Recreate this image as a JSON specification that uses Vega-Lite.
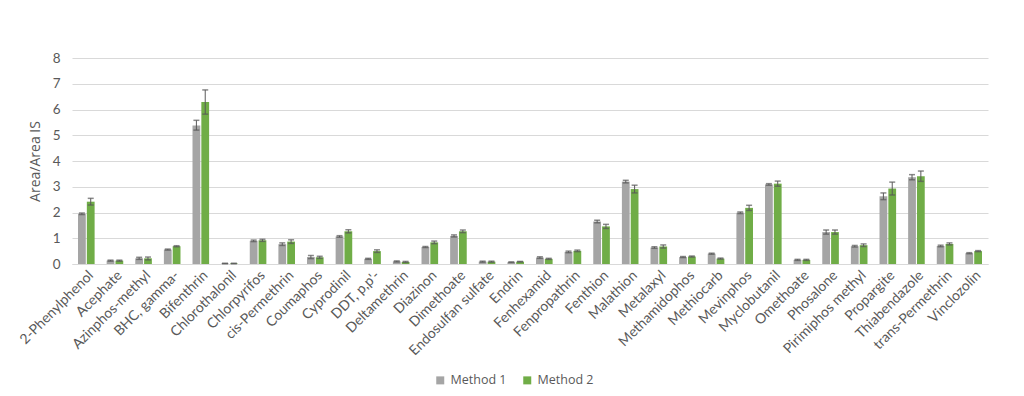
{
  "$schema": "https://vega.github.io/schema/vega-lite/v6.json",
  "width": 916,
  "height": 206,
  "autosize": {"type": "none"},
  "padding": {"left": 72, "top": 58, "right": 36, "bottom": 132},
  "background": "white",
  "data": {"values": [
    {"name": "2-Phenylphenol", "method": "Method 1", "v": 1.95, "lo": 1.92, "hi": 1.98},
    {"name": "2-Phenylphenol", "method": "Method 2", "v": 2.42, "lo": 2.29, "hi": 2.55},
    {"name": "Acephate", "method": "Method 1", "v": 0.13, "lo": 0.11, "hi": 0.15},
    {"name": "Acephate", "method": "Method 2", "v": 0.13, "lo": 0.11, "hi": 0.15},
    {"name": "Azinphos-methyl", "method": "Method 1", "v": 0.22, "lo": 0.18, "hi": 0.26},
    {"name": "Azinphos-methyl", "method": "Method 2", "v": 0.22, "lo": 0.16, "hi": 0.27},
    {"name": "BHC, gamma-", "method": "Method 1", "v": 0.56, "lo": 0.54, "hi": 0.58},
    {"name": "BHC, gamma-", "method": "Method 2", "v": 0.69, "lo": 0.67, "hi": 0.71},
    {"name": "Bifenthrin", "method": "Method 1", "v": 5.38, "lo": 5.2, "hi": 5.58},
    {"name": "Bifenthrin", "method": "Method 2", "v": 6.29, "lo": 5.82, "hi": 6.76},
    {"name": "Chlorothalonil", "method": "Method 1", "v": 0.02, "lo": 0.01, "hi": 0.03},
    {"name": "Chlorothalonil", "method": "Method 2", "v": 0.02, "lo": 0.01, "hi": 0.03},
    {"name": "Chlorpyrifos", "method": "Method 1", "v": 0.9, "lo": 0.87, "hi": 0.93},
    {"name": "Chlorpyrifos", "method": "Method 2", "v": 0.92, "lo": 0.88, "hi": 0.96},
    {"name": "cis-Permethrin", "method": "Method 1", "v": 0.77, "lo": 0.72, "hi": 0.82},
    {"name": "cis-Permethrin", "method": "Method 2", "v": 0.87, "lo": 0.8, "hi": 0.94},
    {"name": "Coumaphos", "method": "Method 1", "v": 0.27, "lo": 0.21, "hi": 0.33},
    {"name": "Coumaphos", "method": "Method 2", "v": 0.26, "lo": 0.22, "hi": 0.3},
    {"name": "Cyprodinil", "method": "Method 1", "v": 1.07, "lo": 1.04, "hi": 1.1},
    {"name": "Cyprodinil", "method": "Method 2", "v": 1.27, "lo": 1.21, "hi": 1.33},
    {"name": "DDT, p,p'-", "method": "Method 1", "v": 0.2, "lo": 0.18, "hi": 0.22},
    {"name": "DDT, p,p'-", "method": "Method 2", "v": 0.5, "lo": 0.45, "hi": 0.55},
    {"name": "Deltamethrin", "method": "Method 1", "v": 0.1, "lo": 0.08, "hi": 0.12},
    {"name": "Deltamethrin", "method": "Method 2", "v": 0.08, "lo": 0.06, "hi": 0.1},
    {"name": "Diazinon", "method": "Method 1", "v": 0.66, "lo": 0.64, "hi": 0.68},
    {"name": "Diazinon", "method": "Method 2", "v": 0.84, "lo": 0.79, "hi": 0.89},
    {"name": "Dimethoate", "method": "Method 1", "v": 1.09, "lo": 1.05, "hi": 1.13},
    {"name": "Dimethoate", "method": "Method 2", "v": 1.27, "lo": 1.22, "hi": 1.32},
    {"name": "Endosulfan sulfate", "method": "Method 1", "v": 0.09, "lo": 0.07, "hi": 0.11},
    {"name": "Endosulfan sulfate", "method": "Method 2", "v": 0.09, "lo": 0.07, "hi": 0.11},
    {"name": "Endrin", "method": "Method 1", "v": 0.07, "lo": 0.06, "hi": 0.08},
    {"name": "Endrin", "method": "Method 2", "v": 0.09, "lo": 0.08, "hi": 0.1},
    {"name": "Fenhexamid", "method": "Method 1", "v": 0.25, "lo": 0.22, "hi": 0.28},
    {"name": "Fenhexamid", "method": "Method 2", "v": 0.2, "lo": 0.18, "hi": 0.22},
    {"name": "Fenpropathrin", "method": "Method 1", "v": 0.47, "lo": 0.44, "hi": 0.5},
    {"name": "Fenpropathrin", "method": "Method 2", "v": 0.51, "lo": 0.48, "hi": 0.54},
    {"name": "Fenthion", "method": "Method 1", "v": 1.65, "lo": 1.6, "hi": 1.7},
    {"name": "Fenthion", "method": "Method 2", "v": 1.46, "lo": 1.38, "hi": 1.54},
    {"name": "Malathion", "method": "Method 1", "v": 3.2, "lo": 3.15, "hi": 3.25},
    {"name": "Malathion", "method": "Method 2", "v": 2.91, "lo": 2.76, "hi": 3.06},
    {"name": "Metalaxyl", "method": "Method 1", "v": 0.64, "lo": 0.61, "hi": 0.67},
    {"name": "Metalaxyl", "method": "Method 2", "v": 0.68, "lo": 0.62, "hi": 0.74},
    {"name": "Methamidophos", "method": "Method 1", "v": 0.27, "lo": 0.25, "hi": 0.29},
    {"name": "Methamidophos", "method": "Method 2", "v": 0.29, "lo": 0.27, "hi": 0.31},
    {"name": "Methiocarb", "method": "Method 1", "v": 0.4, "lo": 0.38, "hi": 0.42},
    {"name": "Methiocarb", "method": "Method 2", "v": 0.21, "lo": 0.19, "hi": 0.23},
    {"name": "Mevinphos", "method": "Method 1", "v": 1.99, "lo": 1.96, "hi": 2.02},
    {"name": "Mevinphos", "method": "Method 2", "v": 2.18, "lo": 2.08, "hi": 2.28},
    {"name": "Myclobutanil", "method": "Method 1", "v": 3.09, "lo": 3.06, "hi": 3.12},
    {"name": "Myclobutanil", "method": "Method 2", "v": 3.12, "lo": 3.02, "hi": 3.22},
    {"name": "Omethoate", "method": "Method 1", "v": 0.16, "lo": 0.14, "hi": 0.18},
    {"name": "Omethoate", "method": "Method 2", "v": 0.16, "lo": 0.14, "hi": 0.18},
    {"name": "Phosalone", "method": "Method 1", "v": 1.24, "lo": 1.16, "hi": 1.32},
    {"name": "Phosalone", "method": "Method 2", "v": 1.24, "lo": 1.16, "hi": 1.32},
    {"name": "Pirimiphos methyl", "method": "Method 1", "v": 0.69, "lo": 0.66, "hi": 0.72},
    {"name": "Pirimiphos methyl", "method": "Method 2", "v": 0.73, "lo": 0.68, "hi": 0.78},
    {"name": "Propargite", "method": "Method 1", "v": 2.63, "lo": 2.5, "hi": 2.76},
    {"name": "Propargite", "method": "Method 2", "v": 2.93, "lo": 2.68, "hi": 3.18},
    {"name": "Thiabendazole", "method": "Method 1", "v": 3.37, "lo": 3.27, "hi": 3.47},
    {"name": "Thiabendazole", "method": "Method 2", "v": 3.41, "lo": 3.21, "hi": 3.61},
    {"name": "trans-Permethrin", "method": "Method 1", "v": 0.7, "lo": 0.67, "hi": 0.73},
    {"name": "trans-Permethrin", "method": "Method 2", "v": 0.78, "lo": 0.74, "hi": 0.82},
    {"name": "Vinclozolin", "method": "Method 1", "v": 0.42, "lo": 0.4, "hi": 0.44},
    {"name": "Vinclozolin", "method": "Method 2", "v": 0.5, "lo": 0.48, "hi": 0.52}
  ]},
  "encoding": {
    "x": {
      "field": "name", "type": "nominal", "sort": null,
      "scale": {"paddingInner": 0.42, "paddingOuter": 0.21},
      "axis": {
        "title": null, "labelAngle": -45, "labelFontSize": 14, "labelColor": "#595959",
        "labelFont": "Lato", "ticks": false, "domainColor": "#D9D9D9", "labelPadding": 4,
        "labelLimit": 200
      }
    },
    "xOffset": {"field": "method", "type": "nominal", "scale": {"paddingInner": 0.12}}
  },
  "layer": [
    {
      "mark": {"type": "bar"},
      "encoding": {
        "y": {
          "field": "v", "type": "quantitative",
          "scale": {"domain": [0, 8]},
          "axis": {
            "title": "Area/Area IS", "titleFont": "Open Sans", "titleFontSize": 14,
            "titleFontWeight": "normal", "titleColor": "#595959", "titlePadding": 10,
            "labelFont": "Lato", "labelFontSize": 13.5, "labelColor": "#595959",
            "tickCount": 8, "ticks": false, "domain": false, "gridColor": "#D9D9D9",
            "labelPadding": 12
          }
        },
        "color": {
          "field": "method", "type": "nominal",
          "scale": {"domain": ["Method 1", "Method 2"], "range": ["#A5A5A5", "#70AD47"]},
          "legend": {
            "title": null, "orient": "none", "direction": "horizontal",
            "legendX": 362, "legendY": 316, "symbolType": "square", "symbolSize": 64,
            "labelFont": "Open Sans", "labelFontSize": 12.5, "labelColor": "#595959",
            "columnPadding": 14, "symbolStrokeWidth": 0
          }
        }
      }
    },
    {
      "mark": {"type": "rule", "color": "#595959", "strokeWidth": 1},
      "encoding": {
        "y": {"field": "lo", "type": "quantitative"},
        "y2": {"field": "hi"}
      }
    },
    {
      "mark": {"type": "tick", "color": "#595959", "thickness": 1.5, "size": 6},
      "encoding": {"y": {"field": "lo", "type": "quantitative"}}
    },
    {
      "mark": {"type": "tick", "color": "#595959", "thickness": 1.5, "size": 6},
      "encoding": {"y": {"field": "hi", "type": "quantitative"}}
    }
  ],
  "config": {"view": {"stroke": null}}
}
